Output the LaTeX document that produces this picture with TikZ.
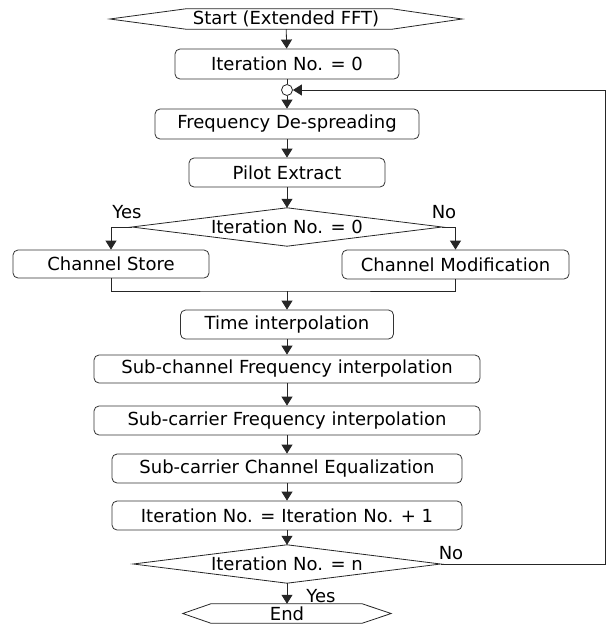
\documentclass[tikz,border=0pt]{standalone}
\usepackage{fontspec}
\setmainfont{DejaVu Sans}
\usetikzlibrary{arrows.meta}

\tikzset{
	txt/.style={inner sep=0pt, text=black, font=\fontsize{18}{21}\selectfont},
	blk/.style={txt, draw=black!80, line width=0.8pt, rounded corners=5pt, fill=white},
	line/.style={draw=black!85, line width=0.8pt},
	arr/.style={line, -{Triangle[width=11pt,length=9pt]}},
}

\begin{document}
\begin{tikzpicture}[x=1pt,y=-1pt]
		\useasboundingbox (0,0) rectangle (607,627);

		% Начало
		\node[txt, minimum width=352pt, minimum height=20pt] (start) at (286,19) {Start (Extended FFT)};
		\draw[line] (start.west) -- ([xshift=76pt]start.north west) -- ([xshift=-70pt]start.north east) -- (start.east)
			-- ([xshift=-70pt]start.south east) -- ([xshift=76pt]start.south west) -- cycle;

		\node[blk, minimum width=224pt, minimum height=30pt] (it0) at (287,64) {Iteration No. = 0};
		\node[circle, line, fill=white, minimum size=11pt, inner sep=0pt] (join) at (287,90) {};
		\node[blk, minimum width=264pt, minimum height=30pt] (desp) at (287,124) {Frequency De-spreading};
		\node[blk, minimum width=196pt, minimum height=29pt] (pilot) at (287,172.5) {Pilot Extract};

		% Первая проверка
		\node[txt, minimum width=310pt, minimum height=38pt] (chk0) at (287,227) {Iteration No. = 0};
		\draw[line] (chk0.west) -- (chk0.north) -- (chk0.east) -- (chk0.south) -- cycle;
		\node[txt] (yes0) at (127,212) {Yes};
		\node[txt] (no0) at (444,212) {No};

		% Две ветки
		\node[blk, minimum width=196pt, minimum height=28pt] (store) at (111,264) {Channel Store};
		\node[blk, minimum width=227pt, minimum height=29pt] (modif) at (455.5,264.5) {Channel Modification};
		\coordinate (merge) at (287,291);

		% Интерполяция
		\node[blk, minimum width=213pt, minimum height=29pt] (time) at (287,324.5) {Time interpolation};
		\node[blk, minimum width=386pt, minimum height=28pt] (subch) at (287,369) {Sub-channel Frequency interpolation};
		\node[blk, minimum width=386pt, minimum height=29pt] (subcar) at (287,420.5) {Sub-carrier Frequency interpolation};
		\node[blk, minimum width=350pt, minimum height=29pt] (equal) at (287,468.5) {Sub-carrier Channel Equalization};
		\node[blk, minimum width=350pt, minimum height=29pt] (incr) at (287,515.5) {Iteration No. = Iteration No. + 1};

		% Вторая проверка
		\node[txt, minimum width=307pt, minimum height=38pt] (chkn) at (287,564) {Iteration No. = n};
		\draw[line] (chkn.west) -- (chkn.north) -- (chkn.east) -- (chkn.south) -- cycle;
		\node[txt] (yesn) at (321,596) {Yes};
		\node[txt] (non) at (451,553) {No};
		\coordinate (edge) at (605,90);

		% Конец
		\node[txt, minimum width=208pt, minimum height=19pt] (end) at (287,613.5) {End};
		\draw[line] (end.west) -- ([xshift=28pt]end.north west) -- ([xshift=-29pt]end.north east) -- (end.east)
			-- ([xshift=-29pt]end.south east) -- ([xshift=28pt]end.south west) -- cycle;

		% Стрелки
		\draw[arr] (start) -- (it0);
		\draw[line] (it0) -- (join);
		\draw[arr] (join) -- (desp);
		\draw[arr] (desp) -- (pilot);
		\draw[arr] (pilot) -- (chk0.north);
		\draw[arr] (chk0.west) -| (store.north);
		\draw[arr] (chk0.east) -| (modif.north);
		\draw[line] (store.south) |- (merge) -| (modif.south);
		\draw[arr] (merge) -- (time);
		\draw[arr] (time) -- (subch);
		\draw[arr] (subch) -- (subcar);
		\draw[arr] (subcar) -- (equal);
		\draw[arr] (equal) -- (incr);
		\draw[arr] (incr) -- (chkn.north);
		\draw[arr] (chkn.south) -- (end.north);
		\draw[arr] (chkn.east) -- (chkn.east -| edge) -- (edge) -- (join);
	\end{tikzpicture}
\end{document}
